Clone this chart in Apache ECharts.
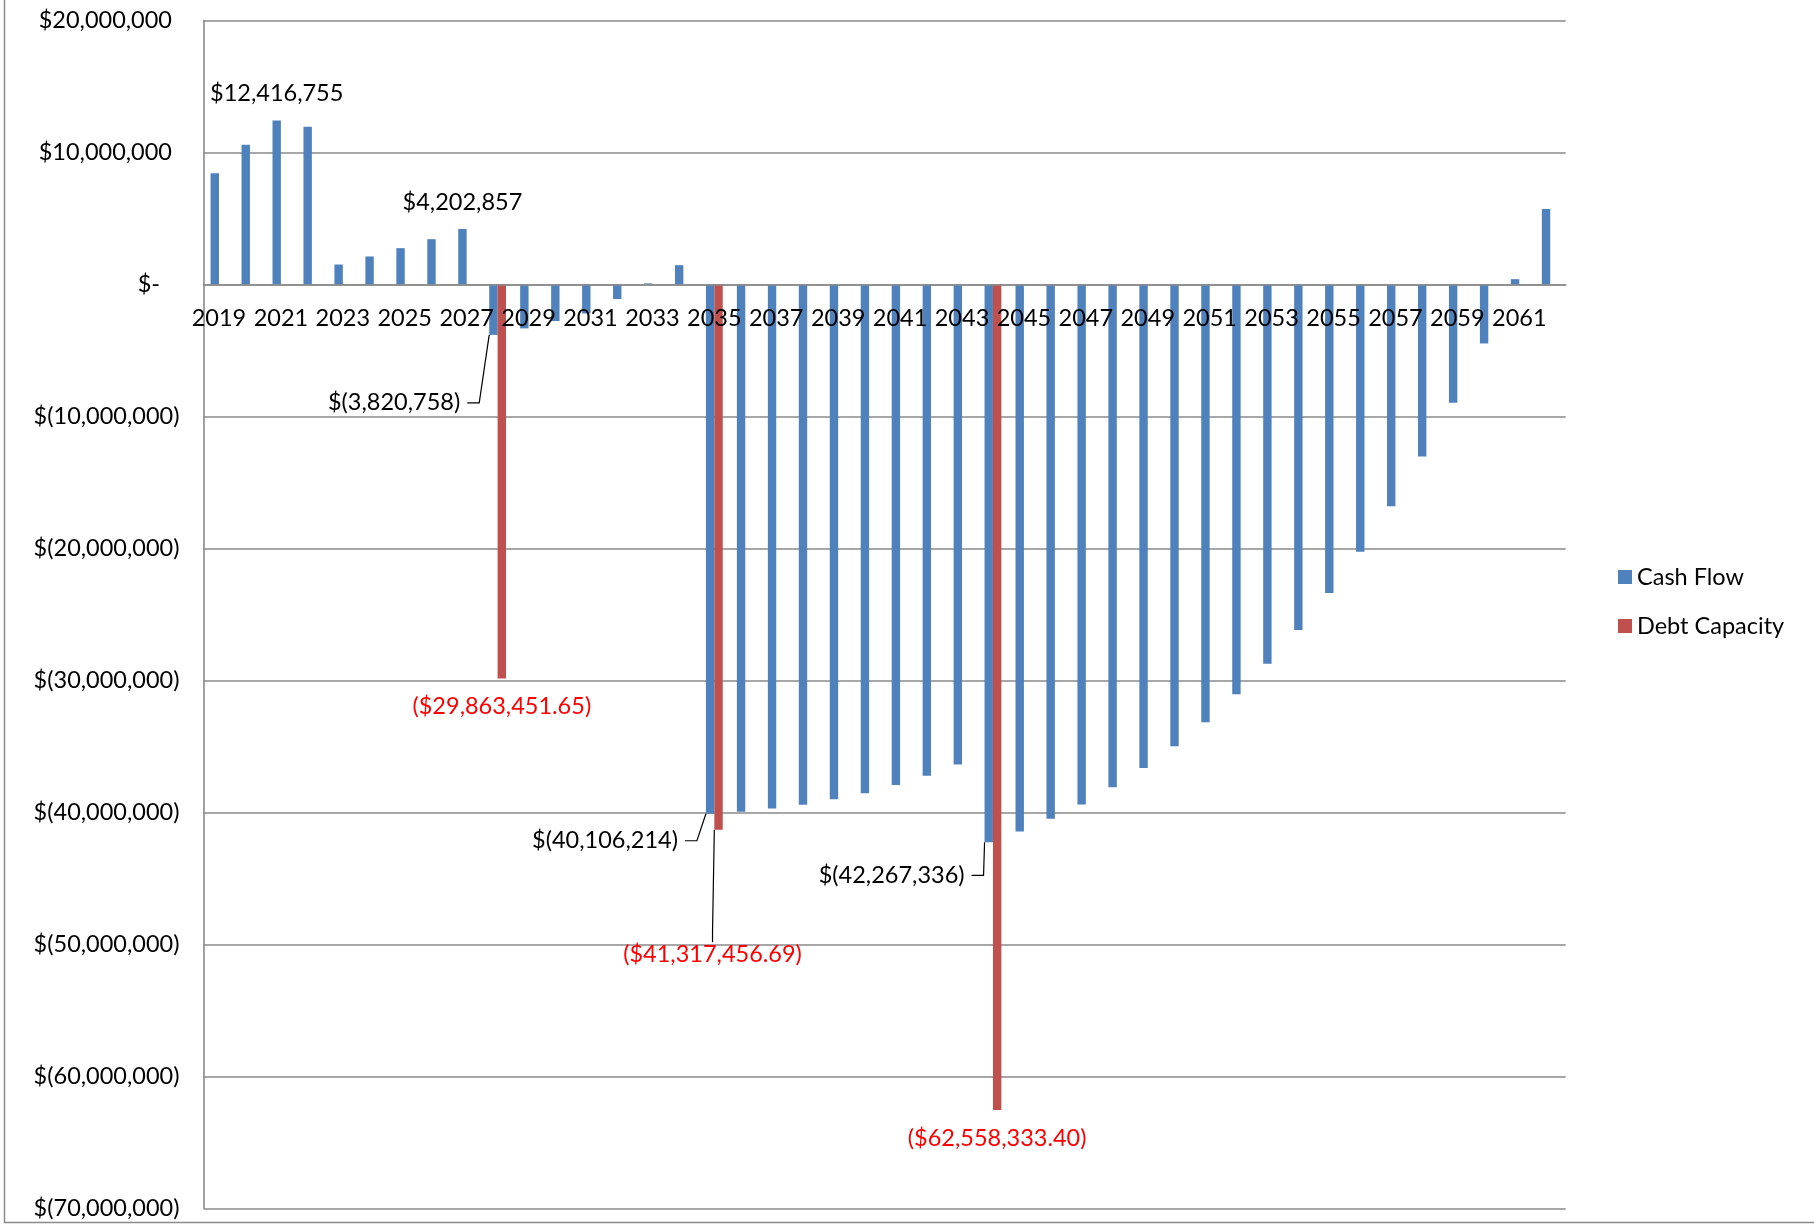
<!DOCTYPE html>
<html>
<head>
<meta charset="utf-8">
<title>Cash Flow and Debt Capacity</title>
<script src="https://cdn.jsdelivr.net/npm/echarts@6/dist/echarts.min.js"></script>
<style>
  html, body { margin: 0; padding: 0; background: #ffffff; }
  #chart { width: 1814px; height: 1225px; }
</style>
</head>
<body>
<div id="chart"></div>
<script>
// Fiscal years on the category axis
const years = [
  '2019','2020','2021','2022','2023','2024','2025','2026','2027','2028',
  '2029','2030','2031','2032','2033','2034','2035','2036','2037','2038',
  '2039','2040','2041','2042','2043','2044','2045','2046','2047','2048',
  '2049','2050','2051','2052','2053','2054','2055','2056','2057','2058',
  '2059','2060','2061','2062'
];

// Annual cash flow ($)
const cashFlow = [
  8420000, 10590000, 12416755, 11950000, 1510000, 2120000, 2750000, 3430000, 4202857, -3820758,
  -3330000, -2770000, -2200000, -1110000, 80000, 1460000, -40106214, -39950000, -39710000, -39420000,
  -39000000, -38550000, -37920000, -37220000, -36380000, -42267336, -41450000, -40490000, -39400000, -38090000,
  -36640000, -34990000, -33170000, -31050000, -28740000, -26190000, -23380000, -20250000, -16800000, -13040000,
  -8960000, -4470000, 400000, 5720000
];

// Debt capacity, only in the years it is drawn on ($)
const debtCapacity = {
  '2028': -29863451.65,
  '2035': -41317456.69,
  '2044': -62558333.40
};

// Value axis range and step
const yMin = -70000000;
const yMax = 20000000;
const yStep = 10000000;

// Cash-flow years that carry a value label
const labelsAbove = ['2021', '2027'];
const labelsWithLeader = ['2028', '2035', '2044'];

const FONT = 'Lato, "Open Sans", "Noto Sans", sans-serif';
const BLUE = '#4F81BD';
const RED = '#C0504D';
const GRAY = '#8a8a8a';

// Plot area edges (px)
const GRID = { left: 203.5, right: 248.3, top: 20.5, bottom: 16.7 };
const CHART_H = 1225;

function groupDigits(n) {
  return Math.round(Math.abs(n)).toLocaleString('en-US');
}
// Accounting style: $1,234 / $(1,234) / $-
function accounting(v) {
  if (v > 0) return '$' + groupDigits(v);
  if (v < 0) return '$(' + groupDigits(v) + ')';
  return '$-';
}
// Currency with cents, negatives in parentheses
function currency2(v) {
  const s = Math.abs(v).toLocaleString('en-US', { minimumFractionDigits: 2, maximumFractionDigits: 2 });
  return v < 0 ? '($' + s + ')' : '$' + s;
}

const cashData = cashFlow.map(function (v, i) {
  const y = years[i];
  if (labelsAbove.indexOf(y) >= 0) {
    return { value: v, label: { show: true, position: 'top', distance: 15 } };
  }
  if (labelsWithLeader.indexOf(y) >= 0) {
    return {
      value: v,
      label: { show: true, position: 'bottom', padding: [0, 7, 0, 0] },
      labelLine: { show: true, length2: 12, lineStyle: { color: '#000', width: 1.2 } }
    };
  }
  return v;
});

const debtData = years.map(function (y) {
  const v = debtCapacity[y];
  if (v === undefined) return null;
  if (y === '2035') {
    return {
      value: v,
      labelLine: { show: true, length2: 10, lineStyle: { color: '#000', width: 1.2 } }
    };
  }
  return v;
});

// Leader-label placement: [offset from bar's left edge, offset below bar end]
const leaderOffsets = { 9: [-22, 68], 16: [-21, 27], 25: [-13, 33] };

// The category axis sits on the zero line: shift it up from the plot bottom
const plotH = CHART_H - GRID.top - GRID.bottom;
const zeroOffset = -plotH * (0 - yMin) / (yMax - yMin);

const chart = echarts.init(document.getElementById('chart'), null, { renderer: 'canvas' });

chart.setOption({
  animation: false,
  backgroundColor: '#ffffff',
  textStyle: { fontFamily: FONT },
  grid: {
    left: GRID.left,
    right: GRID.right,
    top: GRID.top,
    bottom: GRID.bottom,
    containLabel: false,
    outerBoundsMode: 'none'
  },
  legend: {
    orient: 'vertical',
    left: 1613,
    top: 559,
    itemWidth: 14,
    itemHeight: 14,
    itemGap: 23,
    icon: 'rect',
    textStyle: { fontFamily: FONT, fontSize: 23.5, color: '#000', lineHeight: 26 },
    data: ['Cash Flow', 'Debt Capacity']
  },
  xAxis: {
    type: 'category',
    data: years,
    position: 'bottom',
    offset: zeroOffset,
    z: 4,
    axisLine: { show: true, onZero: false, lineStyle: { color: GRAY, width: 1.6 } },
    axisTick: { show: false },
    splitLine: { show: false },
    axisLabel: {
      show: true,
      interval: 1,
      margin: 21.5,
      color: '#000',
      fontFamily: FONT,
      fontSize: 23.5,
      lineHeight: 24,
      hideOverlap: false
    }
  },
  yAxis: {
    type: 'value',
    min: yMin,
    max: yMax,
    interval: yStep,
    axisLine: { show: true, lineStyle: { color: GRAY, width: 1.6 } },
    axisTick: { show: false },
    splitLine: { show: true, lineStyle: { color: GRAY, width: 1.6 } },
    axisLabel: {
      margin: 24,
      color: '#000',
      fontFamily: FONT,
      fontSize: 23.5,
      formatter: function (v) {
        if (v > 0) return '{p|' + accounting(v) + '}';
        if (v < 0) return '{n|' + accounting(v) + '}';
        return '{z|' + accounting(v) + '}';
      },
      rich: {
        p: { fontFamily: FONT, fontSize: 23.5, color: '#000', padding: [0, 7.5, 0, 0] },
        n: { fontFamily: FONT, fontSize: 23.5, color: '#000' },
        z: { fontFamily: FONT, fontSize: 23.5, color: '#000', padding: [0, 19.5, 0, 0] }
      }
    }
  },
  series: [
    {
      name: 'Cash Flow',
      type: 'bar',
      data: cashData,
      barWidth: 8.4,
      barGap: '0%',
      itemStyle: { color: BLUE },
      label: {
        show: false,
        color: '#000',
        fontFamily: FONT,
        fontSize: 23.5,
        lineHeight: 24,
        formatter: function (p) { return accounting(p.value); }
      },
      labelLayout: function (params) {
        const o = leaderOffsets[params.dataIndex];
        if (!o) return {};
        const r = params.rect;
        const bottom = Math.max(r.y, r.y + r.height);
        return { x: r.x + o[0], y: bottom + o[1], align: 'right', verticalAlign: 'middle' };
      }
    },
    {
      name: 'Debt Capacity',
      type: 'bar',
      data: debtData,
      barWidth: 8.4,
      barGap: '0%',
      itemStyle: { color: RED },
      label: {
        show: true,
        position: 'bottom',
        distance: 16,
        color: '#ff0000',
        fontFamily: FONT,
        fontSize: 23.5,
        lineHeight: 24,
        formatter: function (p) { return currency2(p.value); }
      },
      labelLayout: function (params) {
        if (params.dataIndex !== 16) return {};
        const r = params.rect;
        const bottom = Math.max(r.y, r.y + r.height);
        return { x: r.x + r.width / 2 - 6, y: bottom + 124.5, align: 'center', verticalAlign: 'middle' };
      }
    }
  ],
  graphic: [
    {
      type: 'polyline',
      silent: true,
      shape: { points: [[4.5, 0], [4.5, 1222.5], [1814, 1222.5]] },
      style: { stroke: GRAY, lineWidth: 1.5, fill: null }
    }
  ]
});
</script>
</body>
</html>
